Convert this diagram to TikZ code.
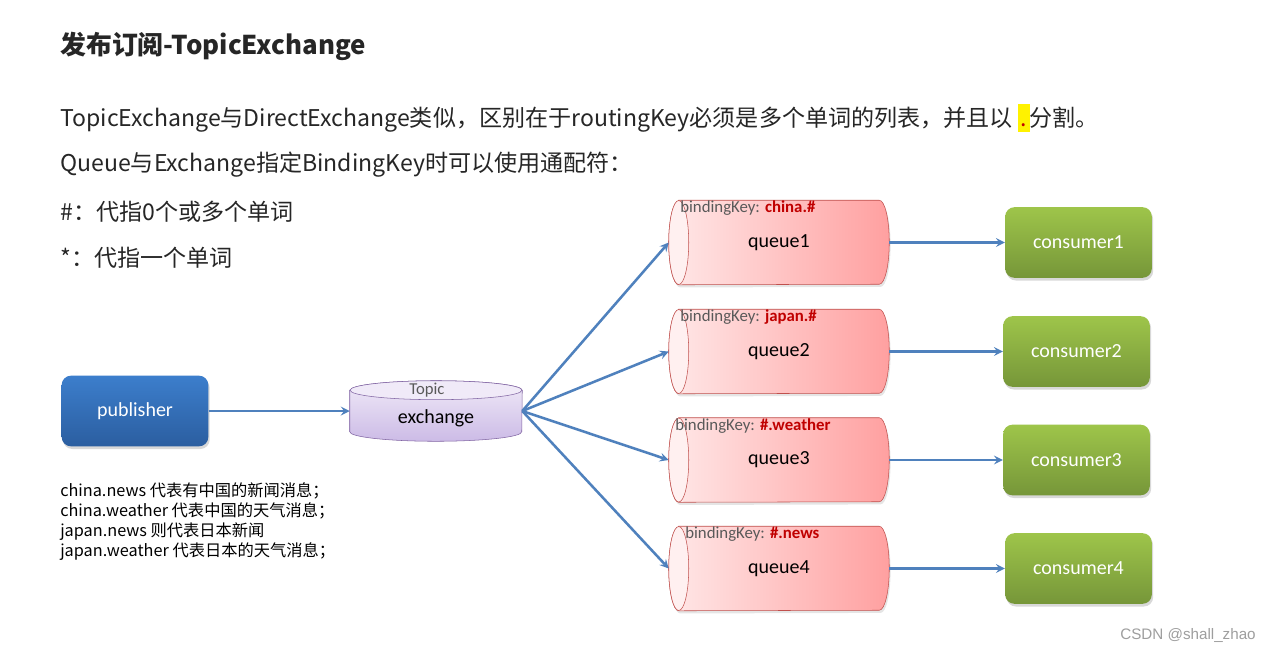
\documentclass[tikz,border=0pt]{standalone}
\usepackage{fontspec}
\setmainfont{Noto Sans CJK SC}
\newfontfamily\calibri{Carlito}
\newfontfamily\arialfont{Liberation Sans}
\usepackage{xcolor}
\usepackage{tikz}
\usetikzlibrary{arrows}
\usetikzlibrary{shadows,backgrounds}

\definecolor{arrowblue}{RGB}{79,129,189}
\definecolor{pubtop}{RGB}{60,126,204}
\definecolor{pubbottom}{RGB}{43,94,160}
\definecolor{contop}{RGB}{158,197,74}
\definecolor{conbottom}{RGB}{118,150,57}
\definecolor{queueleft}{RGB}{255,232,232}
\definecolor{queueright}{RGB}{255,160,160}
\definecolor{queueend}{RGB}{255,240,240}
\definecolor{queueline}{RGB}{192,80,77}
\definecolor{exchtop}{RGB}{240,234,248}
\definecolor{exchbottom}{RGB}{204,187,230}
\definecolor{exchline}{RGB}{128,100,162}
\definecolor{keyred}{RGB}{192,0,0}
\definecolor{labelgray}{RGB}{89,89,89}
\definecolor{textdark}{RGB}{38,38,38}

\begin{document}
\begin{tikzpicture}[x=0.75pt,y=-0.75pt]
  \tikzset{>=stealth}
  \tikzset{
    box/.style={rounded corners=7pt, minimum width=110pt, minimum height=53pt,
      inner sep=0pt, text=white, font=\calibri\fontsize{15}{18}\selectfont,
      drop shadow={opacity=0.3, shadow xshift=1pt, shadow yshift=-2pt}},
    pubbox/.style={box, top color=pubtop, bottom color=pubbottom},
    conbox/.style={box, top color=contop, bottom color=conbottom},
    queuebox/.style={minimum width=165pt, minimum height=63pt, inner sep=0pt,
      font=\calibri\fontsize{15}{18}\selectfont},
    keytext/.style={anchor=west, inner sep=0pt, text=labelgray,
      font=\calibri\fontsize{12.6}{14}\selectfont},
    flow/.style={->, draw=arrowblue, line width=1.9pt},
    txt/.style={anchor=west, inner sep=0pt, text=textdark,
      font=\fontsize{17.3}{20}\selectfont}
  }
  % the page, so that the margins come out as in the slide
  \useasboundingbox (0,0) rectangle (1270,651);
  \begin{pgfonlayer}{background}
    \fill[white] (0,0) rectangle (1270,651);
  \end{pgfonlayer}

  % highlighted separator in the first line
  \newcommand\HighDot{{\setlength\fboxsep{0pt}\colorbox{yellow}{%
    \rule[-3.75pt]{0pt}{21pt}\hspace{2pt}\textcolor{keyred}{.}\hspace{2pt}}}}

  % heading and explanation
  \node[txt, font=\bfseries\fontsize{19.4}{22}\selectfont] (title) at (60,46)
    {发布订阅-TopicExchange};
  \node[txt] (line1) at (60,118)
    {TopicExchange与DirectExchange类似，区别在于routingKey必须是多个单词的列表，并且以 \HighDot 分割。};
  \node[txt] (line2) at (60,165) {Queue与Exchange指定BindingKey时可以使用通配符：};
  \node[txt] (line3) at (60,212) {\#：代指0个或多个单词};
  \node[txt] (line4) at (60,258) {*：代指一个单词};

  \node[txt, align=left, font=\fontsize{12.2}{15}\selectfont, text=black]
    (examples) at (60,522)
    {china.news 代表有中国的新闻消息；\\
     china.weather 代表中国的天气消息；\\
     japan.news 则代表日本新闻\\
     japan.weather 代表日本的天气消息；};

  % publisher and the topic exchange
  \node[pubbox] (publisher) at (135,411) {publisher};
  \node[minimum width=129pt, minimum height=45pt, inner sep=0pt] (exchange)
    at (436,411) {};
  \begin{pgfonlayer}{background}
    \draw[exchline, top color=exchtop, bottom color=exchbottom]
      ([yshift=-7.1pt]exchange.north west)
      -- ([yshift=7.1pt]exchange.south west)
      arc[start angle=180, end angle=360, x radius=64.5pt, y radius=7.1pt]
      -- ([yshift=-7.1pt]exchange.north east)
      arc[start angle=0, end angle=180, x radius=64.5pt, y radius=7.1pt]
      -- cycle;
    \filldraw[draw=exchline, fill=exchtop] ([yshift=-7.1pt]exchange.north)
      ellipse[x radius=64.5pt, y radius=7.1pt];
  \end{pgfonlayer}
  \node[text=labelgray, font=\calibri\fontsize{12.5}{14}\selectfont] (topic)
    at (427,390) {Topic};
  \node[font=\calibri\fontsize{15}{18}\selectfont] (exchtext) at (436,418)
    {exchange};
  \draw[flow] (publisher) -- (exchange.west);

  % queues with their binding keys, and the consumers
  \foreach \i/\y/\kx/\key/\cx in {1/242.5/680/china.\#/1078.5,
                                 2/351.5/680/japan.\#/1076.5,
                                 3/460/675/\#.weather/1076.5,
                                 4/568.5/685/\#.news/1078.5} {
    \node[queuebox] (queue\i) at (779,\y) {queue\i};
    \begin{pgfonlayer}{background}
      \draw[queueline, left color=queueleft, right color=queueright,
        drop shadow={opacity=0.2, shadow xshift=1pt, shadow yshift=-2pt}]
        ([xshift=7.5pt]queue\i.north west)
        -- ([xshift=-7.5pt]queue\i.north east)
        arc[start angle=90, end angle=-90, x radius=7.5pt, y radius=31.5pt]
        -- ([xshift=7.5pt]queue\i.south west)
        arc[start angle=270, end angle=90, x radius=7.5pt, y radius=31.5pt]
        -- cycle;
      \filldraw[draw=queueline, fill=queueend] ([xshift=7.5pt]queue\i.west)
        ellipse[x radius=7.5pt, y radius=31.5pt];
    \end{pgfonlayer}
    \node[keytext] (key\i) at (\kx,\y-34)
      {bindingKey: \textcolor{keyred}{\bfseries\key}};
    \node[conbox] (consumer\i) at (\cx,\y) {consumer\i};
    \draw[flow] (exchange.east) -- (queue\i.west);
    \draw[flow] (queue\i.east) -- (consumer\i.west);
  }

  % watermark
  \node[text=black!38, font=\arialfont\fontsize{11.4}{13}\selectfont]
    (mark) at (1188,635) {CSDN @shall\_zhao};
\end{tikzpicture}
\end{document}
